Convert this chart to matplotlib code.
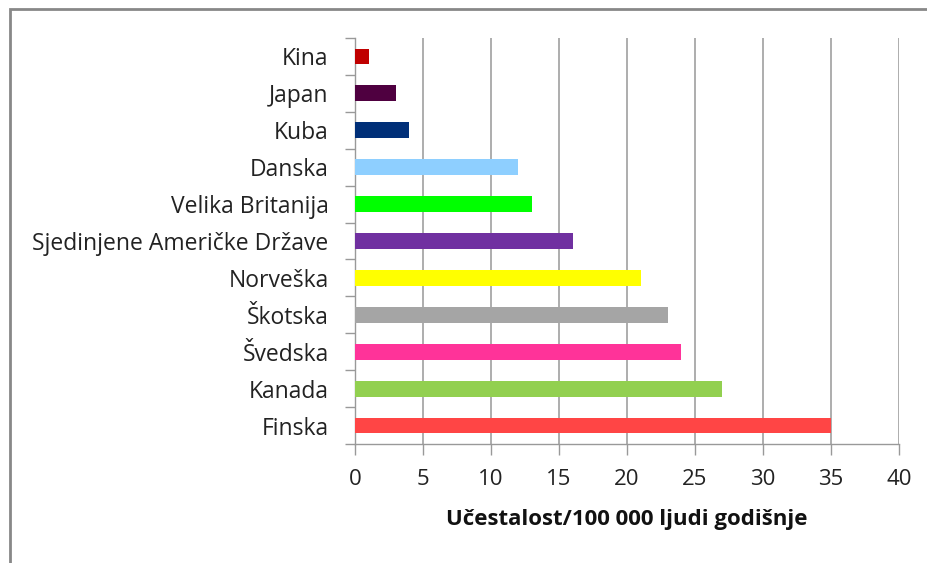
import numpy as np
import matplotlib
matplotlib.use('Agg')
import matplotlib.pyplot as plt
from matplotlib.patches import Rectangle

# data, bottom to top as in the chart
countries = ['Finska', 'Kanada', 'Švedska', 'Škotska', 'Norveška',
             'Sjedinjene Američke Države', 'Velika Britanija', 'Danska',
             'Kuba', 'Japan', 'Kina']
values = [35, 27, 24, 23, 21, 16, 13, 12, 4, 3, 1]
colors = ['#FF4545', '#92D050', '#FF3399', '#A5A5A5', '#FFFF00',
          '#7030A0', '#00FF00', '#8ECFFF', '#002F78', '#4F0040', '#C00000']
xticks = [0, 5, 10, 15, 20, 25, 30, 35, 40]

plt.rcParams['font.family'] = ['Open Sans', 'DejaVu Sans']

fig = plt.figure(figsize=(9.28, 5.63), dpi=100)
ax = fig.add_axes([0.3825, 0.2114, 0.9688 - 0.3825, 0.9325 - 0.2114])

# outer chart frame (only left/top edges visible in the original)
fig.patches.append(Rectangle((10 / 928, -0.1), 1.2, 1 - 9 / 563 + 0.1,
                             transform=fig.transFigure, fill=False,
                             edgecolor='#888888', linewidth=2))

y = np.arange(len(countries))
ax.barh(y, values, height=0.43, color=colors, zorder=3)

ax.set_xlim(0, 40)
ax.set_ylim(-0.5, len(countries) - 0.5)
ax.set_xticks(xticks)
ax.set_xticklabels([str(t) for t in xticks], fontsize=16, color='#222222')
ax.set_yticks(y)
ax.set_yticklabels(countries, fontsize=16.5, color='#222222')
ax.set_yticks(np.arange(len(countries) + 1) - 0.5, minor=True)

ax.tick_params(axis='y', which='major', length=0, pad=19)
ax.tick_params(axis='y', which='minor', length=7, color='#999999', width=1)
ax.tick_params(axis='x', which='major', length=8, color='#999999', width=1, pad=10)

ax.grid(axis='x', color='#A0A0A0', linewidth=1.2, zorder=0)
for s in ['top', 'right']:
    ax.spines[s].set_visible(False)
for s in ['left', 'bottom']:
    ax.spines[s].set_color('#999999')
    ax.spines[s].set_linewidth(1)

ax.set_xlabel('Učestalost/100 000 ljudi godišnje', fontsize=16,
              fontweight='bold', color='#111111', labelpad=14)

fig.savefig('out.png', dpi=100)
